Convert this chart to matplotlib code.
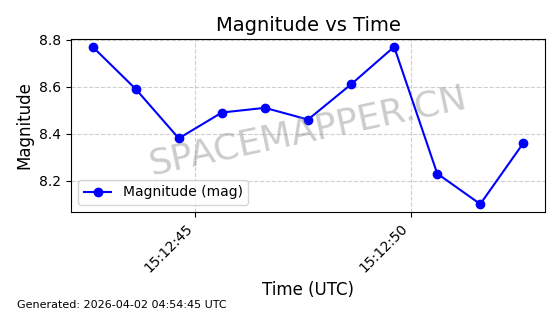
import datetime as dt
import matplotlib
matplotlib.use('Agg')
import matplotlib.pyplot as plt
import matplotlib.dates as mdates

# Observation data
start = dt.datetime(2026, 4, 1, 15, 12, 42, 620000)
times = [start + dt.timedelta(seconds=i) for i in range(11)]
magnitudes = [8.77, 8.59, 8.38, 8.49, 8.51, 8.46, 8.61, 8.77, 8.23, 8.10, 8.36]

fig, ax = plt.subplots(figsize=(5.6, 3.14), dpi=100)
fig.subplots_adjust(left=0.127, right=0.973, top=0.876, bottom=0.325)

ax.plot(times, magnitudes, marker='o', color='blue', label='Magnitude (mag)')

ax.set_title('Magnitude vs Time', fontsize=14)
ax.set_xlabel('Time (UTC)', fontsize=12)
ax.set_ylabel('Magnitude', fontsize=12)
ax.grid(True, linestyle='--', alpha=0.6)
ax.legend(loc='lower left')

ax.xaxis.set_major_locator(mdates.SecondLocator(bysecond=range(0, 60, 5)))
ax.xaxis.set_major_formatter(mdates.DateFormatter('%H:%M:%S'))
plt.setp(ax.get_xticklabels(), rotation=45, ha='right')

# Watermark
ax.text(0.5, 0.47, 'SPACEMAPPER.CN', transform=ax.transAxes, fontsize=26,
        color='gray', alpha=0.4, rotation=12, ha='center', va='center')

fig.text(0.03, 0.02, 'Generated: 2026-04-02 04:54:45 UTC', fontsize=8)

fig.savefig('out.png', dpi=100)
plt.close(fig)
